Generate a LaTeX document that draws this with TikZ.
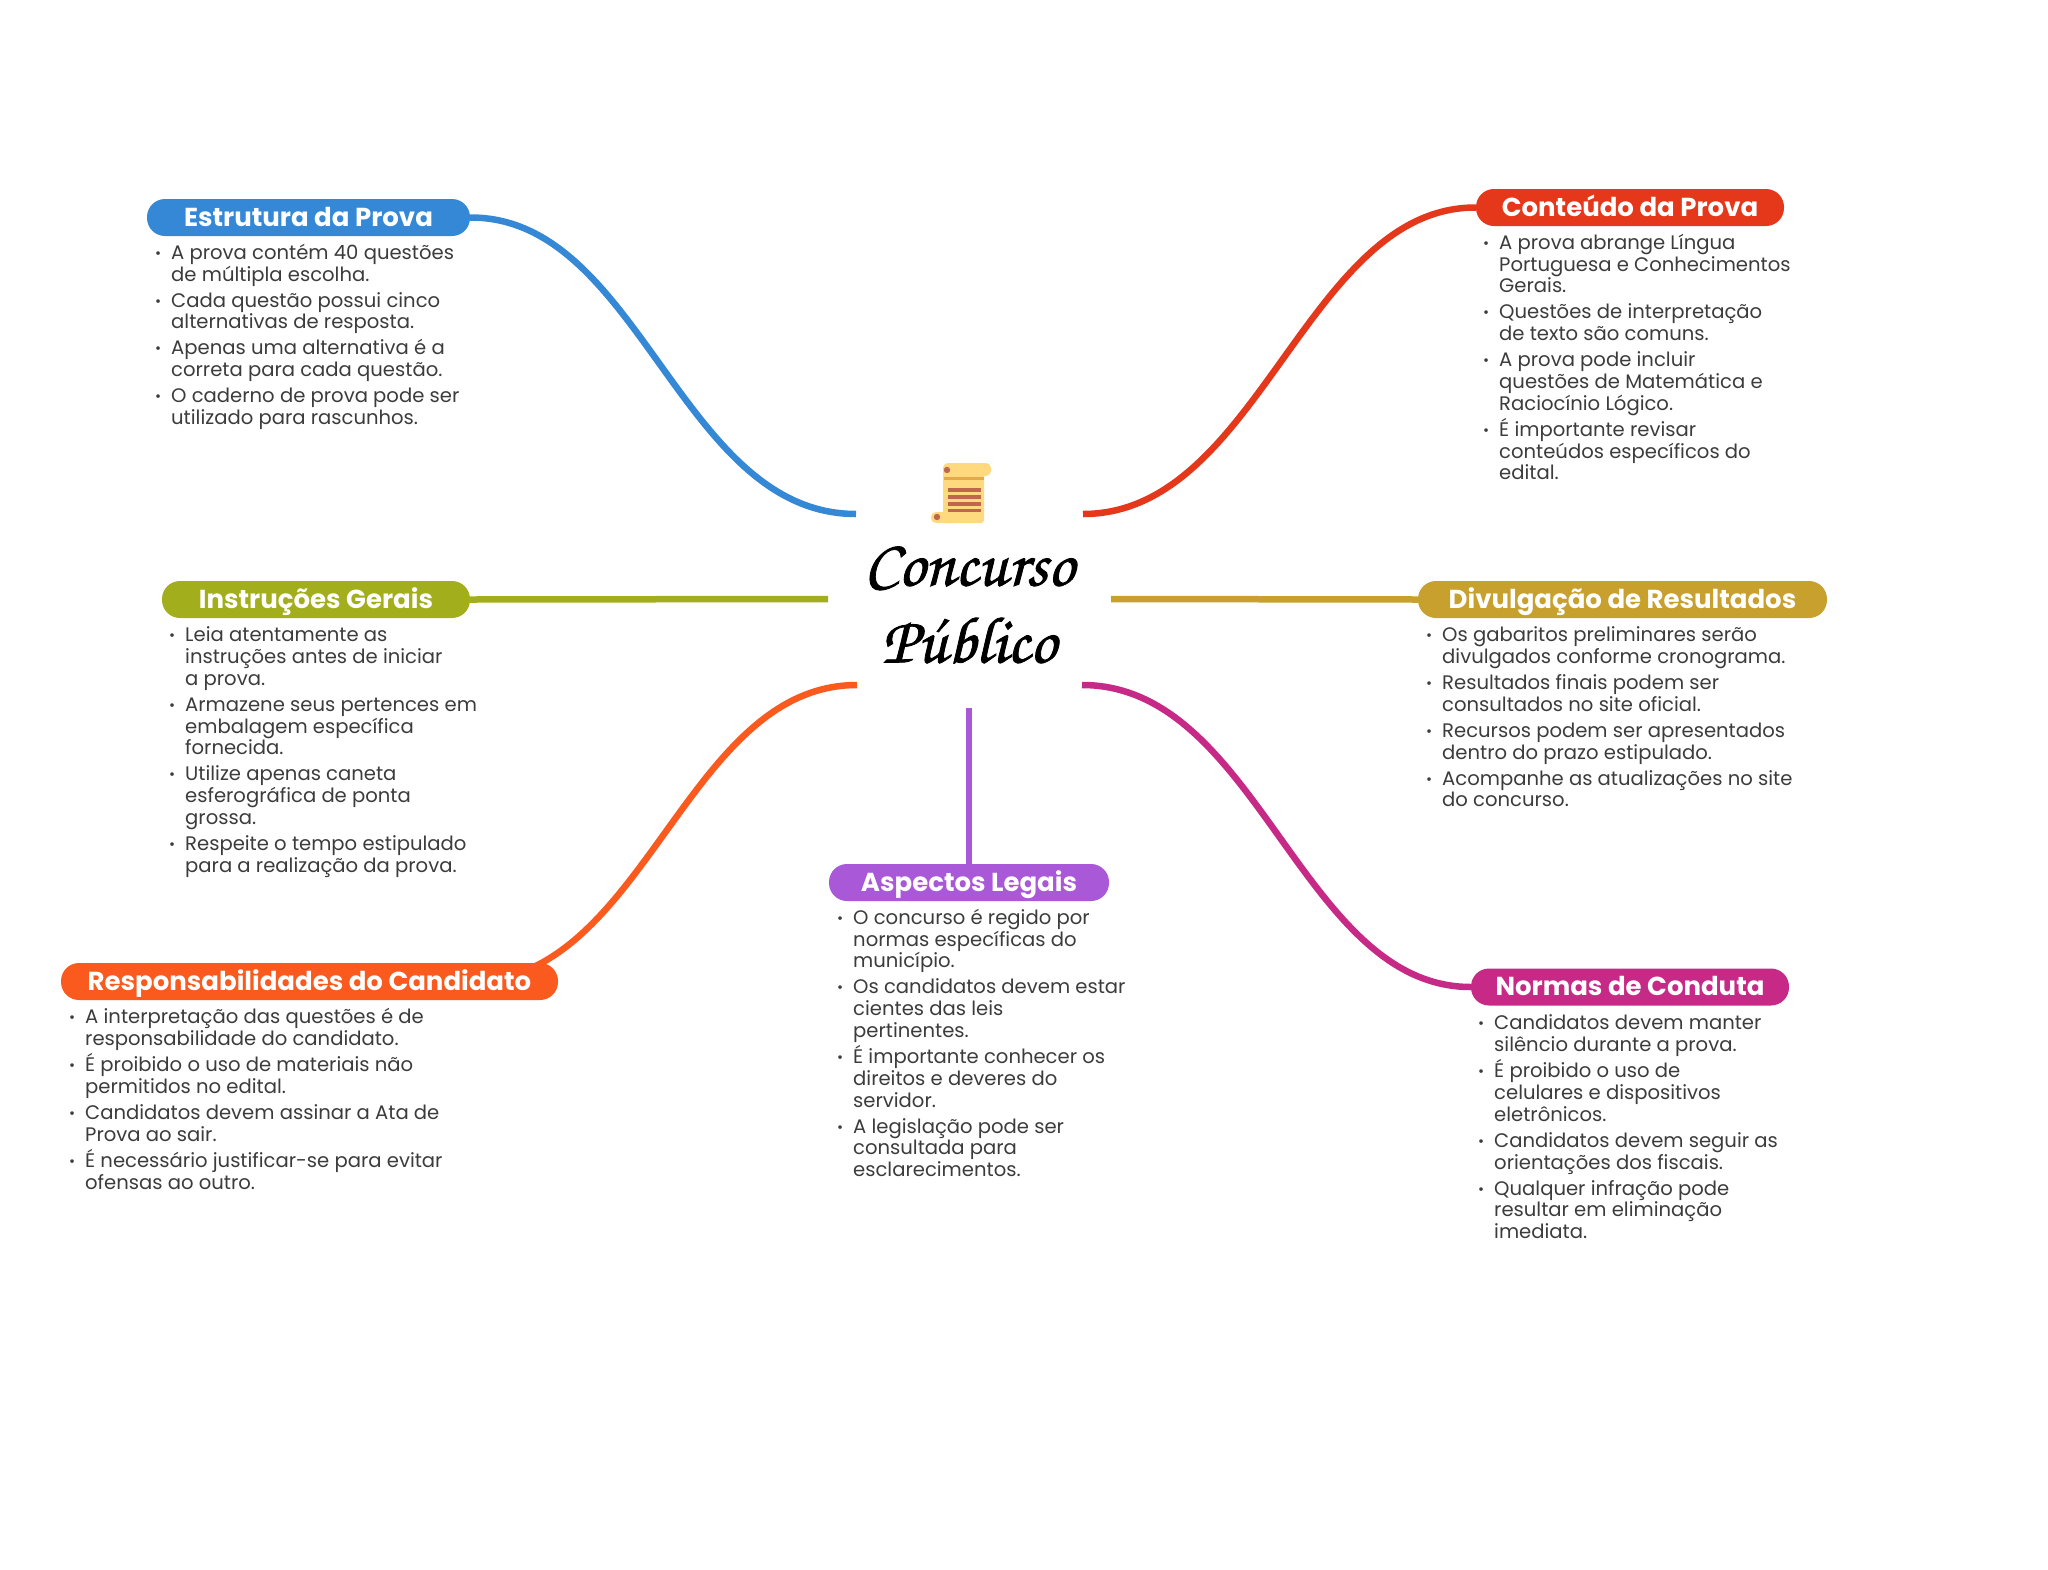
\documentclass[tikz,border=0pt]{standalone}
\usepackage{fontspec}
\usetikzlibrary{backgrounds}
\setmainfont{Poppins}
\newfontfamily\titlefont[FakeBold=1.2]{TeX Gyre Chorus}
\setlength{\lineskiplimit}{-100pt}
\definecolor{cBlue}{HTML}{3488D6}
\definecolor{cRed}{HTML}{E5371A}
\definecolor{cOlive}{HTML}{A3AE1C}
\definecolor{cGold}{HTML}{C8A02E}
\definecolor{cOrange}{HTML}{FA5A1E}
\definecolor{cPurple}{HTML}{A958D8}
\definecolor{cMagenta}{HTML}{C72A86}
\definecolor{cText}{HTML}{3C3C3C}
\definecolor{sBody}{HTML}{FFD97E}
\definecolor{sBand}{HTML}{E5A94A}
\definecolor{sLine}{HTML}{C0664F}
\newcommand{\Bu}{\strut\makebox[17pt][l]{\hspace{1pt}\raisebox{1pt}{\scalebox{.75}{•}}}}
\newcommand{\In}{\hspace*{17pt}}
\tikzset{
  pill/.style={rounded corners=18pt,fill=#1,text=white,font=\fontsize{26}{30}\selectfont\bfseries,inner sep=0pt,minimum height=37pt,text height=21pt,text depth=4pt,anchor=center},
  body/.style={anchor=north west,inner sep=0pt,align=left,text=cText,font=\fontsize{19.6}{21.8}\selectfont},
  link/.style={line width=6.5pt,draw=#1},
}
\begin{document}
\begin{tikzpicture}[x=1pt,y=-1pt]
\useasboundingbox (0,0) rectangle (2048,1569);
% root
\node[inner sep=0pt,align=center,font=\fontsize{66}{77}\selectfont\titlefont] (root) at (969,605) {Concurso\\Público};
\coordinate (rTL) at (856,514);
\coordinate (rTR) at (1083,514);
\coordinate (rL) at (828,599);
\coordinate (rR) at (1111,599);
\coordinate (rBL) at (857,685);
\coordinate (rBR) at (1082,685);
\coordinate (rB) at (969,708);
\coordinate (resIn) at (470,981.5);
% pills
\node[pill=cBlue,minimum width=323pt] (est) at (308.5,217.5) {Estrutura da Prova};
\node[pill=cRed,minimum width=308pt] (con) at (1630,207.5) {Conteúdo da Prova};
\node[pill=cOlive,minimum width=308pt] (ins) at (316,599.5) {Instruções Gerais};
\node[pill=cGold,minimum width=409pt] (div) at (1622.5,599.5) {Divulgação de Resultados};
\node[pill=cOrange,minimum width=497pt] (res) at (309.5,981.5) {Responsabilidades do Candidato};
\node[pill=cPurple,minimum width=280pt] (asp) at (969,882.5) {Aspectos Legais};
\node[pill=cMagenta,minimum width=318pt] (nor) at (1630,987) {Normas de Conduta};
% connectors
\begin{pgfonlayer}{background}
\fill[white] (0,0) rectangle (2048,1569);
\draw[link=cBlue] (rTL) .. controls (680,514) and (640,217) .. (est.east);
\draw[link=cRed] (rTR) .. controls (1259,514) and (1306,207) .. (con.west);
\draw[link=cOlive] (rL) -- (ins.east);
\draw[link=cGold] (rR) -- (div.west);
\draw[link=cOrange] (rBL) .. controls (685,685) and (645,981.5) .. (resIn);
\draw[link=cMagenta] (rBR) .. controls (1258,685) and (1301,987) .. (nor.west);
\draw[link=cPurple] (rB) -- (asp.north);
\end{pgfonlayer}
% lists
\node[body] (estL) at (154,243.8) {\Bu A prova contém 40 questões\\\In de múltipla escolha.\\[4.2pt]\Bu Cada questão possui cinco\\\In alternativas de resposta.\\[4.2pt]\Bu Apenas uma alternativa é a\\\In correta para cada questão.\\[4.2pt]\Bu O caderno de prova pode ser\\\In utilizado para rascunhos.};
\node[body] (conL) at (1482,233.8) {\Bu A prova abrange Língua\\\In Portuguesa e Conhecimentos\\\In Gerais.\\[4.2pt]\Bu Questões de interpretação\\\In de texto são comuns.\\[4.2pt]\Bu A prova pode incluir\\\In questões de Matemática e\\\In Raciocínio Lógico.\\[4.2pt]\Bu É importante revisar\\\In conteúdos específicos do\\\In edital.};
\node[body] (insL) at (168,626.3) {\Bu Leia atentamente as\\\In instruções antes de iniciar\\\In a prova.\\[4.2pt]\Bu Armazene seus pertences em\\\In embalagem específica\\\In fornecida.\\[4.2pt]\Bu Utilize apenas caneta\\\In esferográfica de ponta\\\In grossa.\\[4.2pt]\Bu Respeite o tempo estipulado\\\In para a realização da prova.};
\node[body] (divL) at (1425,626.3) {\Bu Os gabaritos preliminares serão\\\In divulgados conforme cronograma.\\[4.2pt]\Bu Resultados finais podem ser\\\In consultados no site oficial.\\[4.2pt]\Bu Recursos podem ser apresentados\\\In dentro do prazo estipulado.\\[4.2pt]\Bu Acompanhe as atualizações no site\\\In do concurso.};
\node[body] (resL) at (68,1008.3) {\Bu A interpretação das questões é de\\\In responsabilidade do candidato.\\[4.2pt]\Bu É proibido o uso de materiais não\\\In permitidos no edital.\\[4.2pt]\Bu Candidatos devem assinar a Ata de\\\In Prova ao sair.\\[4.2pt]\Bu É necessário justificar-se para evitar\\\In ofensas ao outro.};
\node[body] (aspL) at (836,908.8) {\Bu O concurso é regido por\\\In normas específicas do\\\In município.\\[4.2pt]\Bu Os candidatos devem estar\\\In cientes das leis\\\In pertinentes.\\[4.2pt]\Bu É importante conhecer os\\\In direitos e deveres do\\\In servidor.\\[4.2pt]\Bu A legislação pode ser\\\In consultada para\\\In esclarecimentos.};
\node[body] (norL) at (1477,1014.5) {\Bu Candidatos devem manter\\\In silêncio durante a prova.\\[4.2pt]\Bu É proibido o uso de\\\In celulares e dispositivos\\\In eletrônicos.\\[4.2pt]\Bu Candidatos devem seguir as\\\In orientações dos fiscais.\\[4.2pt]\Bu Qualquer infração pode\\\In resultar em eliminação\\\In imediata.};
% scroll icon
\fill[sBody,rounded corners=5pt] (943,463) rectangle (991,476);
\fill[sBody,rounded corners=3pt] (943,465) rectangle (984,523);
\fill[sBody,rounded corners=5pt] (931,512) rectangle (960,523);
\fill[sBand] (944,476.5) rectangle (984,480);
\foreach \yy in {488,495,502,508.5} \fill[sLine] (948,\yy) rectangle (981,\yy+3.6);
\fill[sLine] (947,470) circle (3.2);
\fill[sLine] (937,517) circle (3.2);
\end{tikzpicture}
\end{document}
